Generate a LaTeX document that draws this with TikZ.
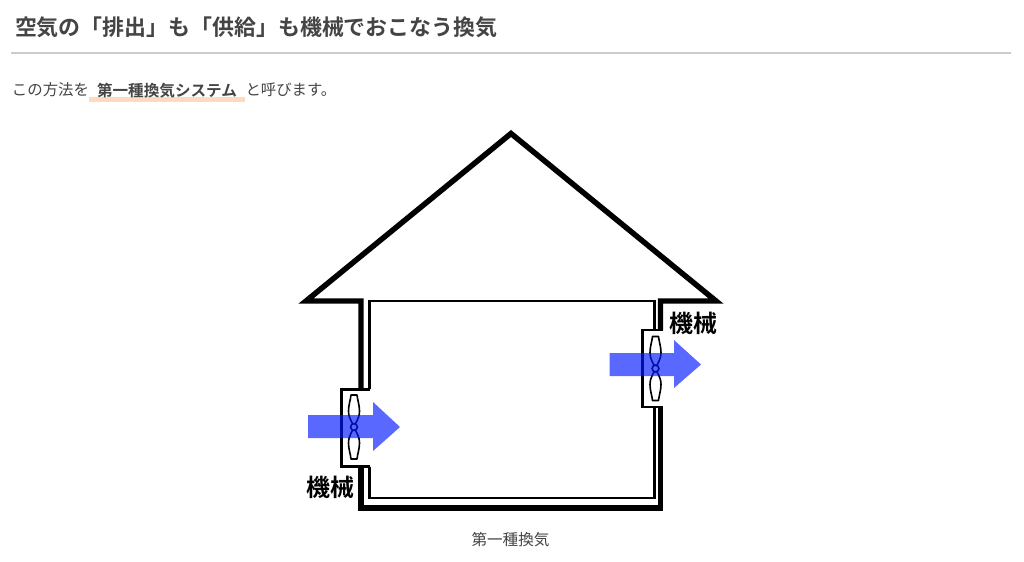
\documentclass[tikz,border=0pt]{standalone}
\usepackage{fontspec}
\setmainfont{Noto Sans CJK JP}
\newfontfamily\jpbold{Noto Sans CJK JP Bold}
\definecolor{inktext}{HTML}{444444}
\definecolor{rulegray}{HTML}{CCCCCC}
\definecolor{marker}{HTML}{FFD9C0}
\definecolor{flowblue}{RGB}{0,25,255}
\tikzset{
  x=0.75pt,y=-0.75pt,
  thickwall/.style={line width=4.1pt,line join=miter,line cap=butt},
  thinwall/.style={line width=1.7pt,line join=miter,line cap=butt},
  blade/.style={draw=black,line width=1.2pt,fill=white,line join=round},
  flow/.style={fill=flowblue,fill opacity=.65,draw=none},
  txt/.style={inner sep=0pt,outer sep=0pt,text=inktext,anchor=west},
  machine/.style={inner sep=0pt,font=\jpbold\fontsize{18pt}{18pt}\selectfont,text=black},
  pics/fan/.style={code={
    \draw[blade] (0,0) .. controls (-1,-4) and (-5.5,-8) .. (-5.5,-16) .. controls (-5.5,-22) and (-3.5,-27) .. (-3,-32) -- (3,-32) .. controls (3.5,-27) and (5.5,-22) .. (5.5,-16) .. controls (5.5,-8) and (1,-4) .. (0,0)
      .. controls (1,4) and (5.5,8) .. (5.5,16) .. controls (5.5,22) and (3.5,27) .. (3,32) -- (-3,32) .. controls (-3.5,27) and (-5.5,22) .. (-5.5,16) .. controls (-5.5,8) and (-1,4) .. (0,0) -- cycle;
    \draw[line width=1.2pt,fill=white] (0,0) circle[radius=3.4];
  }}
}
\begin{document}
\begin{tikzpicture}
\useasboundingbox (0,0) rectangle (1024,561);
% heading
\node[txt,font=\jpbold\fontsize{16.45pt}{17pt}\selectfont] (title) at (15,27) {空気の「排出」も「供給」も機械でおこなう換気};
\draw[rulegray,line width=0.8pt] (11,53) -- (1011,53);
% sentence
\fill[marker] (89,96.5) rectangle (245,101.5);
\node[txt,font=\fontsize{11.55pt}{12pt}\selectfont] (s1) at (12,90) {この方法を};
\node[txt,font=\jpbold\fontsize{11.7pt}{12pt}\selectfont] (s2) at (97,90.5) {第一種換気システム};
\node[txt,font=\fontsize{11.55pt}{12pt}\selectfont] (s3) at (245.5,90) {と呼びます。};
% roof and thick outline
\draw[thickwall] (361,389) -- (361,301) -- (306,301) -- (511,133.5) -- (716,301) -- (660.5,301) -- (660.5,330);
\draw[thickwall] (361,467) -- (361,508) -- (660.5,508) -- (660.5,407);
% thin inner wall
\draw[thinwall] (369.5,389) -- (369.5,301) -- (654.5,301) -- (654.5,330);
\draw[thinwall] (369.5,467) -- (369.5,498) -- (654.5,498) -- (654.5,407);
% vent boxes
\draw[thinwall] (370.3,389.5) -- (341.5,389.5) -- (341.5,466.5) -- (370.3,466.5);
\draw[thinwall] (663,330) -- (642.5,330) -- (642.5,407) -- (663,407);
% fans
\pic at (354,427) {fan};
\pic at (655.5,368.5) {fan};
% blue arrows
\fill[flow] (308,415) -- (373,415) -- (373,402) -- (400,427) -- (373,451) -- (373,438) -- (308,438) -- cycle;
\fill[flow] (609.5,353) -- (674,353) -- (674,340) -- (701,364.5) -- (674,388) -- (674,376) -- (609.5,376) -- cycle;
% labels
\node[machine] (m1) at (330,487) {機械};
\node[machine] (m2) at (693,323) {機械};
\node[txt,font=\fontsize{11.7pt}{12pt}\selectfont,anchor=center] (cap) at (510.5,540) {第一種換気};
\end{tikzpicture}
\end{document}
